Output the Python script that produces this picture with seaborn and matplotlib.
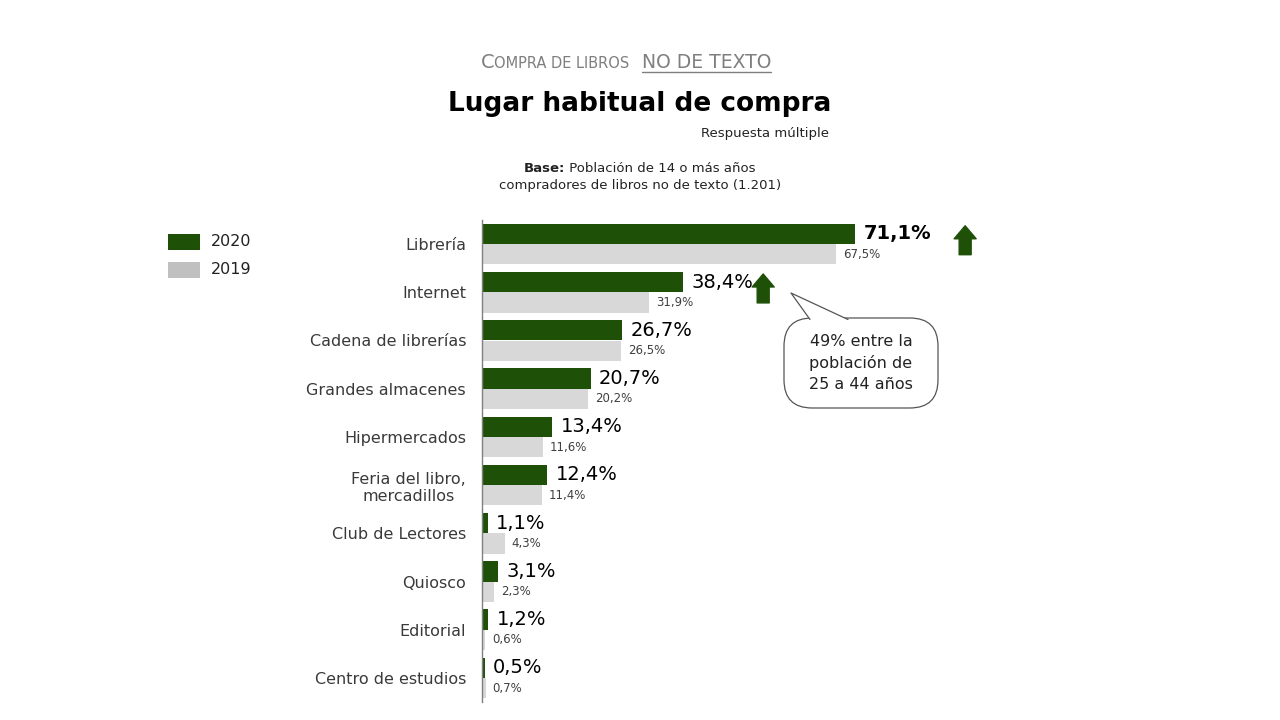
import pandas as pd
import matplotlib.pyplot as plt
import seaborn as sns
from matplotlib.patches import Rectangle, FancyBboxPatch, Polygon
from matplotlib.lines import Line2D

# Data
categories = ['Librería', 'Internet', 'Cadena de librerías', 'Grandes almacenes',
              'Hipermercados', 'Feria del libro,\nmercadillos', 'Club de Lectores',
              'Quiosco', 'Editorial', 'Centro de estudios']
values_2020 = [71.1, 38.4, 26.7, 20.7, 13.4, 12.4, 1.1, 3.1, 1.2, 0.5]
values_2019 = [67.5, 31.9, 26.5, 20.2, 11.6, 11.4, 4.3, 2.3, 0.6, 0.7]
years = ['2020', '2019']

GREEN = '#1f5008'
GREY = '#d9d8d9'
GREY_LEG = '#c0c0c0'

df = pd.DataFrame({
    'lugar': categories * 2,
    'year': ['2020'] * len(categories) + ['2019'] * len(categories),
    'valor': values_2020 + values_2019,
})

sns.set_theme(style='white')
plt.rcParams['font.family'] = ['DejaVu Sans']

W, H = 1280, 720
fig = plt.figure(figsize=(12.8, 7.2), dpi=100)
ax = fig.add_axes([482 / W, 18 / H, 524.6 / W, 482 / H])


def px(x, y):
    # figure pixel (top-left origin) -> figure fraction
    return x / W, 1 - y / H


sns.barplot(data=df, x='valor', y='lugar', hue='year', hue_order=years,
            palette=[GREEN, GREY], orient='h', width=0.84, gap=0,
            saturation=1, legend=False, linewidth=0, ax=ax)

ax.set_xlim(0, 100)
ax.set_ylim(9.5, -0.5)
ax.set_xlabel('')
ax.set_ylabel('')
ax.set_xticks([])
for s in ['top', 'right', 'bottom']:
    ax.spines[s].set_visible(False)
ax.spines['left'].set_color('#7f7f7f')
ax.spines['left'].set_linewidth(1)
ax.tick_params(axis='y', length=0, pad=11.5)
for lab in ax.get_yticklabels():
    lab.set_fontsize(11.5)
    lab.set_color('#3a3a3a')
    lab.set_multialignment('center')

# value labels
lab20 = ax.bar_label(ax.containers[0], labels=[f'{v:.1f}%'.replace('.', ',') for v in values_2020],
                     padding=6, fontsize=14, color='black')
lab20[0].set_fontweight('bold')
ax.bar_label(ax.containers[1], labels=[f'{v:.1f}%'.replace('.', ',') for v in values_2019],
             padding=5, fontsize=8.5, color='#404040')

# up arrows
for xa, ya in [(92.1, 0), (53.6, 1)]:
    ax.annotate('', xy=(xa, ya - 0.38), xytext=(xa, ya + 0.22),
                arrowprops=dict(arrowstyle='simple,head_width=1.1,head_length=0.65,tail_width=0.6',
                                fc=GREEN, ec=GREEN, mutation_scale=14.4, shrinkA=0, shrinkB=0))

# callout bubble
bx0, by0, bx1, by1 = 784, 318, 938, 408
box = FancyBboxPatch(px(bx0, by1), (bx1 - bx0) / W, (by1 - by0) / H,
                     boxstyle='round,pad=0,rounding_size=0.022', mutation_aspect=W / H,
                     transform=fig.transFigure, fc='white', ec='#555555', lw=0.9, zorder=5)
fig.patches.append(box)
tail = [px(810, 319.5), px(791, 293), px(848, 319.5)]
fig.patches.append(Polygon(tail, closed=True, transform=fig.transFigure,
                           fc='white', ec='none', zorder=6))
fig.add_artist(Line2D([p[0] for p in tail], [p[1] for p in tail], transform=fig.transFigure,
                      color='#555555', lw=0.9, zorder=7))
fig.text(*px(861, 363), '49% entre la\npoblación de\n25 a 44 años', ha='center', va='center',
         fontsize=11.5, color='#222222', linespacing=1.45, zorder=8)

# legend
for i, (yr, col) in enumerate(zip(years, [GREEN, GREY_LEG])):
    y0 = 234 + i * 28
    fig.patches.append(Rectangle(px(168, y0 + 16), 32 / W, 16 / H,
                                 transform=fig.transFigure, fc=col, ec='none'))
    fig.text(*px(211, y0 + 8), yr, fontsize=11.5, va='center', color='#222222')

# titles
fig.text(*px(640, 104), 'Lugar habitual de compra', ha='center', va='center',
         fontsize=19, fontweight='bold', color='black')
fig.text(*px(829, 134), 'Respuesta múltiple', ha='right', va='center',
         fontsize=9.5, color='#222222')
fig.text(*px(640, 185), 'compradores de libros no de texto (1.201)', ha='center', va='center',
         fontsize=9.5, color='#222222')

renderer = fig.canvas.get_renderer()


def chain(pieces, xc, y, color, va='baseline'):
    texts = []
    for s, fs, fw in pieces:
        texts.append(fig.text(0, 1 - y / H, s, fontsize=fs, fontweight=fw,
                              color=color, ha='left', va=va))
    widths = [t.get_window_extent(renderer).width for t in texts]
    x = xc - sum(widths) / 2
    for t, w in zip(texts, widths):
        t.set_x(x / W)
        x += w
    return texts, widths


chain([('Base:', 9.5, 'bold'), (' Población de 14 o más años', 9.5, 'normal')],
      640, 168, '#222222', va='center')

# small caps header
texts, widths = chain([('C', 14, 'normal'), ('OMPRA DE LIBROS', 10.5, 'normal'),
                       ('  ', 13.5, 'normal'), ('NO DE TEXTO', 13.5, 'normal')],
                      626, 68, '#7f7f7f')
ul_x0 = texts[3].get_position()[0]
fig.add_artist(Line2D([ul_x0, ul_x0 + widths[3] / W], [1 - 71.5 / H] * 2,
                      transform=fig.transFigure, color='#7f7f7f', lw=1))

fig.savefig('out.png', dpi=100, facecolor='white')
